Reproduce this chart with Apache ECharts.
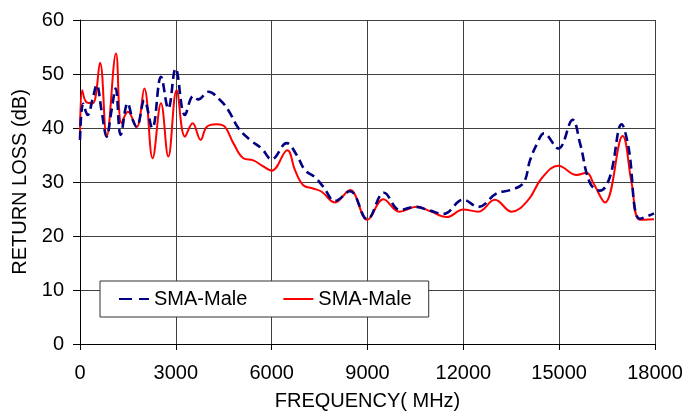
<!DOCTYPE html>
<html>
<head>
<meta charset="utf-8">
<script src="https://cdn.jsdelivr.net/npm/echarts@6/dist/echarts.min.js"></script>
<style>html,body{margin:0;padding:0;background:#fff}#c{width:699px;height:413px}</style>
</head>
<body>
<div id="c"></div>
<script>
// Blue dashed series (frequency MHz, return loss dB)
const blueFreq = [0, 100, 240, 400, 521, 680, 835, 980, 1117, 1273, 1493, 1650, 1773, 2013, 2263, 2535, 2764, 2994, 3286, 3547, 3703, 4017, 4383, 4643, 4956, 5322, 5687, 6000, 6470, 6783, 7043, 7356, 7617, 7983, 8452, 8995, 9517, 10017, 10487, 10956, 11373, 12000, 12469, 13043, 13460, 13877, 14087, 14300, 14525, 14973, 15422, 15652, 15965, 16278, 16591, 16956, 17165, 17530, 17968];
const blueDb   = [37.8, 44.5, 42.4, 45.5, 48, 43, 38.4, 43, 47.3, 38.7, 44.6, 41.5, 40.2, 45.1, 40, 49.5, 43.6, 51, 42.4, 45.9, 45.3, 46.7, 45.2, 43.3, 40, 37.8, 36.2, 34.2, 37.2, 35, 32.2, 30.9, 29.1, 26.5, 28.3, 23.1, 28, 24.8, 25.4, 24.7, 24.1, 26.7, 25.4, 27.9, 28.5, 29.8, 34, 37, 39, 36.2, 41.5, 37.2, 29.8, 28.4, 31, 40.7, 36.6, 23.2, 24.2];
// Red solid series
const redFreq = [0, 70, 200, 400, 626, 835, 1127, 1300, 1500, 1773, 2013, 2274, 2535, 2764, 3025, 3286, 3526, 3777, 3964, 4278, 4539, 4800, 5113, 5426, 5687, 6000, 6490, 6730, 6990, 7300, 7565, 7983, 8452, 8995, 9496, 9996, 10539, 10956, 11478, 12000, 12469, 12990, 13512, 14034, 14452, 14973, 15548, 15861, 16069, 16434, 16987, 17269, 17530, 17968];
const redDb   = [37.8, 47, 44.8, 44.6, 52.1, 38.4, 53.8, 40.9, 43, 40.2, 47.3, 34.4, 44.6, 34.7, 47, 38.4, 40.9, 37.8, 40.2, 40.7, 40.2, 37.2, 34.4, 34, 33.1, 32.1, 35.9, 32.2, 29.4, 28.8, 28.2, 26.2, 28.5, 23, 26.8, 24.5, 25.4, 24.6, 23.5, 24.9, 24.5, 26.7, 24.5, 26.7, 30.7, 33, 31.3, 31.7, 29.8, 26.2, 38.5, 29.8, 23, 23.1];
const legendLabels = ['SMA-Male', 'SMA-Male'];
const xTicks = [0, 3000, 6000, 9000, 12000, 15000, 18000];
const yTicks = [0, 10, 20, 30, 40, 50, 60];

const pair = (xs, ys) => xs.map((x, i) => [x, ys[i]]);
const font = 'Liberation Sans, Arial, sans-serif';
const seriesNames = [legendLabels[0] + ' (1)', legendLabels[1] + ' (2)'];
const chart = echarts.init(document.getElementById('c'), null, {renderer: 'canvas'});
chart.setOption({
  animation: false,
  backgroundColor: '#fff',
  grid: {left: 80, right: 44, top: 20, bottom: 69, containLabel: false, outerBoundsMode: 'none'},
  xAxis: {
    type: 'value', min: xTicks[0], max: xTicks[xTicks.length - 1], interval: 3000,
    name: 'FREQUENCY( MHz)', nameLocation: 'middle', nameGap: 47,
    nameTextStyle: {fontFamily: font, fontSize: 20, color: '#000'},
    axisLine: {show: true, lineStyle: {color: '#000', width: 1}},
    axisTick: {show: true, length: 6, lineStyle: {color: '#000'}},
    axisLabel: {fontFamily: font, fontSize: 20, color: '#000', margin: 19, formatter: (v) => String(v)},
    splitLine: {show: true, showMinLine: false, showMaxLine: true, lineStyle: {color: '#404040', width: 1}}
  },
  yAxis: {
    type: 'value', min: yTicks[0], max: yTicks[yTicks.length - 1], interval: 10,
    name: 'RETURN LOSS (dB)', nameLocation: 'middle', nameGap: 44,
    nameTextStyle: {fontFamily: font, fontSize: 20, color: '#000'},
    axisLine: {show: true, lineStyle: {color: '#000', width: 1}},
    axisTick: {show: true, length: 7, lineStyle: {color: '#000'}},
    axisLabel: {fontFamily: font, fontSize: 20, color: '#000', margin: 16, formatter: (v) => String(v)},
    splitLine: {show: true, showMinLine: false, showMaxLine: true, lineStyle: {color: '#404040', width: 1}}
  },
  legend: {
    show: true, left: 100, top: 281, orient: 'horizontal',
    padding: [8, 17, 8, 18], itemGap: 35, itemWidth: 30, itemHeight: 14,
    borderColor: '#333', borderWidth: 1, backgroundColor: '#fff',
    textStyle: {fontFamily: font, fontSize: 20, color: '#000'},
    itemStyle: {opacity: 0},
    formatter: (n) => n.replace(/ \(\d\)$/, ''),
    data: [
      {name: seriesNames[0], lineStyle: {type: [13, 7]}},
      {name: seriesNames[1]}
    ]
  },
  series: [
    {
      name: seriesNames[0], type: 'line', data: pair(blueFreq, blueDb),
      smooth: 0.4, symbol: 'none', showSymbol: false, z: 3,
      lineStyle: {color: '#000080', width: 2.6, type: [9, 5]},
      itemStyle: {color: '#000080'}
    },
    {
      name: seriesNames[1], type: 'line', data: pair(redFreq, redDb),
      smooth: 0.4, symbol: 'none', showSymbol: false, z: 2,
      lineStyle: {color: '#ff0000', width: 2},
      itemStyle: {color: '#ff0000'}
    }
  ]
});
</script>
</body>
</html>
